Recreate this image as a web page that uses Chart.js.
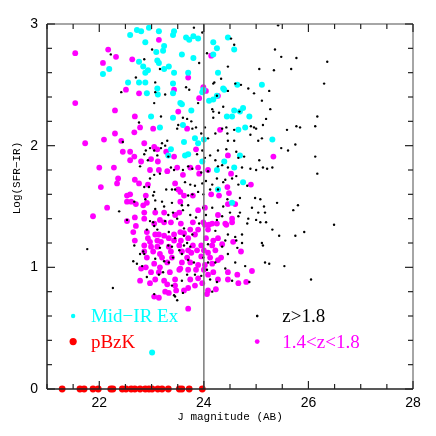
<!DOCTYPE html>
<html>
<head>
<meta charset="utf-8">
<script src="https://cdn.jsdelivr.net/npm/chart.js@4"></script>
<style>
  html, body { margin: 0; background: #fff; }
</style>
</head>
<body>
<canvas id="chart" width="436" height="436"></canvas>
<script>
// ── Data (J magnitude, Log SFR-IR) ─────────────
const X_TICKS = [22, 24, 26, 28];
const Y_TICKS = [0, 1, 2, 3];
const J_CUT = 24;

const midIrEx = [
  [22.59,2.91],[22.72,2.95],[22.80,2.94],[22.95,2.97],[23.14,2.94],[23.43,2.94],[23.41,2.91],[23.66,2.89],
  [23.72,2.87],[23.80,2.90],[23.89,2.88],[22.88,2.85],[23.24,2.82],[23.09,2.77],[23.22,2.78],[23.58,2.75],
  [22.76,2.69],[23.11,2.70],[23.80,2.72],[22.84,2.65],[22.93,2.62],[23.14,2.68],[23.33,2.65],[22.88,2.60],
  [23.24,2.63],[23.43,2.60],[23.70,2.60],[22.19,2.63],[22.07,2.59],[22.55,2.52],[22.76,2.52],[22.88,2.52],
  [23.11,2.47],[23.12,2.42],[23.41,2.51],[23.41,2.43],[23.97,2.44],[22.91,2.43],[23.58,2.34],[23.76,2.29],
  [24.18,2.38],[24.10,2.37],[24.25,2.41],[24.39,2.46],[24.64,2.50],[24.58,2.29],[24.69,2.28],[24.75,2.31],
  [24.44,2.24],[24.54,2.24],[22.99,2.24],[23.41,2.23],[23.60,2.17],[24.79,2.15],[24.18,2.85],[24.25,2.80],
  [24.46,2.89],[24.58,2.79],[24.18,2.75],[24.27,2.60],[25.11,2.50],[24.37,2.47],[23.99,2.46],[24.87,2.24],
  [23.55,2.35],[24.66,2.13],[23.83,2.06],[24.00,2.05],[23.89,2.02],[25.31,2.05],[24.69,1.92],[24.39,1.87],
  [24.58,1.82],[24.25,1.80],[23.97,1.87],[23.70,1.93],[24.75,1.70],[24.27,1.64],[24.54,1.53],[23.16,2.15],
  [23.62,2.03],[23.37,1.97],[23.32,1.92],[23.64,1.92],[23.01,0.30]
];

const midZ = [
  [21.54,2.76],[22.17,2.79],[22.07,2.68],[22.32,2.73],[22.63,2.71],[23.14,2.87],[23.70,2.56],[23.43,2.46],
  [22.51,2.46],[22.76,2.43],[23.99,2.48],[24.04,2.45],[23.91,2.39],[24.27,2.41],[21.54,2.35],[22.30,2.29],
  [22.68,2.24],[23.51,2.28],[22.78,2.15],[23.03,2.14],[23.68,2.14],[24.14,2.74],[24.31,2.13],[21.73,2.02],
  [22.09,2.05],[22.30,2.10],[22.42,2.04],[22.67,2.11],[22.86,2.02],[22.45,1.95],[22.59,1.95],[22.67,1.91],
  [22.59,1.88],[23.05,1.99],[23.11,1.97],[23.28,1.95],[23.43,1.91],[22.99,1.89],[23.12,1.87],[22.00,1.82],
  [22.28,1.82],[22.80,1.87],[22.97,1.80],[23.14,1.80],[23.30,1.79],[23.49,1.82],[22.36,1.73],[22.34,1.69],
  [22.68,1.72],[22.76,1.69],[22.93,1.68],[22.03,1.66],[23.51,1.64],[23.45,1.69],[23.60,1.76],[23.55,1.62],
  [23.62,1.59],[22.53,1.59],[22.59,1.60],[22.89,1.59],[22.53,1.54],[22.70,1.52],[22.61,1.54],[23.55,1.54],
  [22.84,1.51],[22.91,1.53],[22.15,1.49],[21.88,1.42],[22.86,1.45],[23.07,1.45],[23.24,1.45],[23.45,1.43],
  [23.53,1.45],[22.68,1.41],[22.86,1.40],[23.16,1.39],[23.24,1.37],[23.37,1.37],[25.33,1.91],[24.46,1.92],
  [23.85,1.97],[23.74,1.82],[23.89,1.82],[24.08,1.80],[23.91,1.77],[24.52,1.77],[24.90,1.68],[24.45,1.66],
  [24.14,1.60],[24.29,1.59],[24.48,1.61],[23.79,1.59],[24.46,1.52],[23.89,1.47],[24.02,1.49],[24.60,1.52],
  [24.27,1.43],[24.54,1.40],[24.41,1.36],[24.25,1.36],[24.02,1.35],[24.10,1.35],[22.53,1.38],[22.70,1.34],
  [23.05,1.36],[23.56,1.36],[22.65,1.29],[22.91,1.29],[23.07,1.27],[23.14,1.27],[23.24,1.26],[23.43,1.27],
  [23.55,1.29],[23.62,1.28],[22.68,1.22],[22.93,1.24],[22.97,1.21],[23.11,1.22],[23.18,1.21],[23.33,1.24],
  [23.43,1.22],[23.56,1.22],[22.86,1.18],[22.99,1.17],[23.11,1.17],[23.33,1.17],[23.53,1.18],[22.86,1.13],
  [23.03,1.13],[23.16,1.11],[23.37,1.13],[23.58,1.13],[23.20,1.08],[23.39,1.08],[23.30,1.04],[23.58,1.04],
  [22.89,1.00],[23.05,1.03],[23.55,0.99],[22.80,0.99],[22.99,0.96],[23.14,0.96],[23.35,0.96],[23.53,0.98],
  [22.78,0.89],[23.07,0.90],[23.24,0.89],[23.45,0.90],[23.30,0.86],[22.97,0.87],[23.47,0.81],[23.26,0.80],
  [23.05,0.76],[23.14,0.75],[23.62,0.81],[23.45,0.85],[23.16,1.00],[22.91,1.08],[23.79,1.37],[23.99,1.37],
  [24.16,1.36],[24.43,1.35],[24.54,1.37],[23.74,1.31],[23.89,1.31],[24.08,1.31],[23.83,1.27],[23.70,1.24],
  [24.04,1.24],[24.18,1.22],[24.27,1.24],[24.56,1.21],[23.79,1.18],[23.95,1.18],[24.16,1.18],[24.35,1.19],
  [23.70,1.14],[23.87,1.14],[24.00,1.14],[24.22,1.14],[23.76,1.12],[24.08,1.12],[23.68,1.08],[23.95,1.09],
  [24.12,1.08],[24.33,1.08],[23.74,1.04],[23.89,1.02],[24.02,1.02],[24.16,1.03],[24.27,1.06],[24.71,1.13],
  [23.70,0.98],[23.85,0.98],[24.00,0.98],[24.18,0.96],[23.74,0.90],[23.89,0.91],[24.08,0.94],[24.27,0.90],
  [24.46,0.96],[24.64,0.94],[24.92,0.97],[24.46,0.90],[23.83,0.85],[23.97,0.87],[24.66,0.87],[24.81,0.88],
  [24.08,0.81],[24.23,0.82],[24.06,0.78],[23.70,0.83],[23.33,0.79],[23.70,0.66]
];

const highZ = [
  [23.81,2.97],[23.97,2.93],[24.52,2.88],[24.58,2.83],[23.01,2.79],[22.22,2.75],[23.91,2.68],[22.86,2.71],
  [23.16,2.63],[24.46,2.65],[22.70,2.56],[23.07,2.52],[24.18,2.51],[24.33,2.55],[22.42,2.44],[23.07,2.44],
  [23.66,2.48],[23.72,2.46],[23.26,2.42],[23.05,2.35],[23.89,2.35],[24.60,2.51],[24.85,2.47],[24.46,2.45],
  [24.16,2.30],[24.37,2.32],[24.18,2.28],[23.18,2.24],[23.60,2.23],[22.76,2.19],[23.51,2.17],[23.68,2.22],
  [23.76,2.20],[23.85,2.15],[23.49,2.14],[24.02,2.15],[25.42,2.99],[24.06,2.76],[25.36,2.79],[25.48,2.73],
  [25.77,2.72],[26.36,2.69],[25.06,2.63],[25.34,2.62],[25.67,2.63],[24.20,2.52],[24.71,2.50],[25.25,2.45],
  [24.96,2.43],[26.30,2.51],[24.25,2.41],[25.11,2.37],[26.17,2.24],[25.27,2.30],[25.19,2.22],[24.29,2.27],
  [24.68,2.28],[24.18,2.23],[24.43,2.15],[25.13,2.17],[25.77,2.16],[25.84,2.15],[26.13,2.16],[24.96,2.15],
  [23.78,2.14],[24.35,2.14],[24.45,2.10],[24.58,2.13],[24.90,2.16],[25.00,2.14],[25.04,2.04],[25.59,2.13],
  [23.95,2.10],[24.08,2.06],[24.22,2.10],[24.46,2.04],[24.58,2.04],[24.89,2.09],[25.11,2.06],[25.48,1.98],
  [25.61,1.96],[25.75,2.01],[26.13,1.91],[26.17,1.77],[24.27,1.96],[24.43,1.97],[24.62,1.95],[24.66,1.90],
  [24.77,1.91],[25.06,1.88],[25.13,1.82],[25.31,1.82],[23.97,1.96],[23.87,1.93],[24.02,1.90],[24.12,1.92],
  [24.22,1.88],[24.27,1.83],[24.35,1.84],[24.46,1.82],[24.73,1.82],[24.89,1.81],[25.00,1.80],[25.21,1.81],
  [23.70,1.83],[23.78,1.81],[23.95,1.78],[24.08,1.79],[24.25,1.73],[24.41,1.72],[24.54,1.73],[24.62,1.75],
  [24.66,1.68],[24.83,1.67],[23.64,1.70],[23.74,1.68],[23.83,1.67],[23.97,1.69],[24.04,1.71],[24.16,1.68],
  [24.37,1.70],[23.70,1.59],[23.78,1.60],[23.89,1.62],[23.99,1.60],[24.12,1.64],[24.27,1.64],[24.45,1.56],
  [24.69,1.57],[24.98,1.57],[25.08,1.56],[25.15,1.50],[25.40,1.53],[23.70,1.51],[23.99,1.49],[24.16,1.49],
  [24.37,1.50],[24.50,1.45],[24.69,1.45],[24.92,1.49],[25.17,1.45],[23.74,1.43],[23.85,1.41],[24.04,1.43],
  [24.35,1.42],[24.66,1.42],[24.85,1.40],[25.04,1.45],[25.80,1.51],[25.71,1.47],[24.25,1.39],[25.00,1.39],
  [24.83,1.36],[25.19,1.37],[26.49,1.35],[23.91,1.36],[25.08,1.37],[25.31,1.31],[25.44,1.26],[25.75,1.26],
  [25.92,1.29],[23.78,1.27],[24.22,1.30],[24.46,1.27],[24.60,1.25],[24.41,1.22],[24.62,1.22],[24.73,1.20],
  [24.73,1.27],[25.11,1.20],[25.13,1.18],[23.68,1.20],[23.74,1.17],[24.08,1.19],[24.35,1.17],[24.46,1.11],
  [24.64,1.16],[23.70,1.06],[23.81,1.04],[23.99,1.08],[24.08,1.04],[24.22,1.04],[24.06,0.98],[23.68,0.94],
  [23.83,0.94],[23.95,0.93],[24.12,0.90],[24.25,0.88],[24.60,1.04],[24.79,1.01],[25.17,1.04],[25.25,1.03],
  [25.54,1.01],[24.54,0.89],[24.87,0.88],[26.05,0.90],[24.16,0.80],[25.02,0.60],[24.41,0.99],[23.20,2.02],
  [23.30,2.04],[23.26,2.00],[23.18,1.98],[22.97,1.98],[22.89,1.96],[22.86,1.93],[22.78,1.83],[23.05,1.96],
  [23.32,1.91],[23.37,1.82],[23.43,1.80],[23.60,1.80],[23.16,1.77],[23.05,1.76],[22.97,1.73],[22.86,1.66],
  [22.95,1.66],[23.45,1.64],[23.39,1.64],[23.28,1.64],[23.05,1.62],[23.03,1.59],[23.07,1.55],[22.67,1.54],
  [22.88,1.56],[23.58,1.51],[23.20,1.54],[23.39,1.53],[23.24,1.50],[22.38,1.46],[23.07,1.48],[22.97,1.38],
  [23.32,1.43],[23.49,1.40],[23.60,1.47],[23.41,1.45],[22.45,2.03],[22.93,1.88],[23.11,1.92],[21.77,1.15],
  [22.26,0.83],[22.67,1.18],[22.72,1.03],[22.82,1.01],[22.86,1.11],[22.91,1.31],[23.05,1.34],[23.26,1.38],
  [23.33,1.29],[23.45,1.24],[23.62,1.26],[23.11,1.31],[23.16,1.16],[23.32,1.18],[23.39,1.17],[23.62,1.18],
  [23.24,1.05],[23.33,1.04],[23.41,1.08],[23.53,1.14],[23.58,1.11],[22.65,1.05],[22.91,0.92],[23.14,0.94],
  [23.22,0.96],[23.39,0.85],[23.58,0.89],[23.05,0.78],[23.45,0.76],[23.49,0.73],[22.78,1.11],[22.84,1.13],
  [23.62,1.32],[23.03,1.37],[22.53,1.39],[23.07,1.07],[23.43,0.77],[23.60,0.79]
];

// pBzK objects sit on the Log(SFR-IR) = 0 line
const pBzKJ = [
  21.29, 21.63, 21.71, 21.88, 21.98, 22.22, 22.26, 22.44, 22.51, 22.61, 22.68,
  22.78, 22.88, 22.95, 23.01, 23.12, 23.20, 23.32, 23.53, 23.58, 23.72, 23.97
];

const toPoints = arr => arr.map(([x, y]) => ({ x, y }));

// ── Frame, inward ticks, cut line, legend, axis titles ──
const framePlugin = {
  id: 'frame',
  afterDatasetsDraw(chart) {
    const { ctx, chartArea: a, scales: { x, y } } = chart;
    const seg = (x1, y1, x2, y2) => { ctx.beginPath(); ctx.moveTo(x1, y1); ctx.lineTo(x2, y2); ctx.stroke(); };
    ctx.save();

    // J = 24 cut
    ctx.strokeStyle = '#7a7a7a';
    ctx.lineWidth = 1.5;
    const xc = x.getPixelForValue(J_CUT);
    seg(xc, a.top, xc, a.bottom);

    // box
    ctx.strokeStyle = '#888';
    seg(a.left, a.top, a.right, a.top);
    seg(a.right, a.top, a.right, a.bottom);
    ctx.strokeStyle = '#222';
    seg(a.left, a.top, a.left, a.bottom);
    seg(a.left, a.bottom, a.right, a.bottom);

    // ticks, pointing inward
    ctx.strokeStyle = '#222';
    ctx.lineWidth = 1.2;
    for (let i = 42; i <= 56; i++) {
      const px = x.getPixelForValue(i / 2);
      const len = i % 4 === 0 ? 8 : 5;
      seg(px, a.bottom, px, a.bottom - len);
      seg(px, a.top, px, a.top + len);
    }
    for (let i = 0; i <= 15; i++) {
      const py = y.getPixelForValue(i / 5);
      const len = i % 5 === 0 ? 8 : 5;
      seg(a.left, py, a.left + len, py);
      seg(a.right, py, a.right - len, py);
    }

    // legend
    const dot = (px, py, r, c) => { ctx.fillStyle = c; ctx.beginPath(); ctx.arc(px, py, r, 0, Math.PI * 2); ctx.fill(); };
    ctx.font = '19px "Liberation Serif", serif';
    ctx.textBaseline = 'alphabetic';
    const rows = [
      { mx: 21.5,  tx: 21.84, vy: 0.60, r: 2.2, c: '#00ffff', t: 'Mid\u2212IR Ex' },
      { mx: 21.5,  tx: 21.84, vy: 0.39, r: 3.6, c: '#ff0000', t: 'pBzK' },
      { mx: 25.02, tx: 25.5,  vy: 0.60, r: 1.2, c: '#000000', t: 'z>1.8' },
      { mx: 25.02, tx: 25.5,  vy: 0.39, r: 2.4, c: '#ff00ff', t: '1.4<z<1.8' }
    ];
    rows.forEach(r => {
      const py = y.getPixelForValue(r.vy);
      dot(x.getPixelForValue(r.mx), py, r.r, r.c);
      ctx.fillStyle = r.c;
      ctx.fillText(r.t, x.getPixelForValue(r.tx), py + 6);
    });

    // axis titles
    ctx.fillStyle = '#000';
    ctx.font = '11px "Liberation Mono", monospace';
    ctx.textAlign = 'center';
    ctx.textBaseline = 'middle';
    ctx.fillText('J magnitude (AB)', (a.left + a.right) / 2, 417);
    ctx.translate(17, 178);
    ctx.rotate(-Math.PI / 2);
    ctx.fillText('Log(SFR\u2212IR)', 0, 0);

    ctx.restore();
  }
};

const ctx = document.getElementById('chart').getContext('2d');
new Chart(ctx, {
  type: 'scatter',
  data: {
    datasets: [
      { label: 'pBzK', data: pBzKJ.map(x => ({ x, y: 0 })), pointRadius: 3.4, backgroundColor: '#ff0000', borderWidth: 0, order: 0, clip: false },
      { label: 'z>1.8', data: toPoints(highZ), pointRadius: 1.2, backgroundColor: '#000000', borderWidth: 0, order: 1 },
      { label: 'Mid-IR Ex', data: toPoints(midIrEx), pointRadius: 3, backgroundColor: '#00ffff', borderWidth: 0, order: 2 },
      { label: '1.4<z<1.8', data: toPoints(midZ), pointRadius: 2.9, backgroundColor: '#ff00ff', borderWidth: 0, order: 3 }
    ]
  },
  options: {
    responsive: false,
    animation: false,
    layout: { padding: { top: 24, right: 23, left: 0, bottom: 0 } },
    plugins: { legend: { display: false }, tooltip: { enabled: false } },
    scales: {
      x: {
        type: 'linear', min: 21, max: 28,
        afterBuildTicks: s => { s.ticks = X_TICKS.map(v => ({ value: v })); },
        afterFit: s => { s.height = 47; },
        grid: { display: false, drawTicks: false },
        border: { display: false },
        ticks: { padding: 6, color: '#000', font: { family: '"Liberation Sans", sans-serif', size: 14 } }
      },
      y: {
        type: 'linear', min: 0, max: 3,
        afterBuildTicks: s => { s.ticks = Y_TICKS.map(v => ({ value: v })); },
        afterFit: s => { s.width = 47; },
        grid: { display: false, drawTicks: false },
        border: { display: false },
        ticks: { padding: 9, color: '#000', font: { family: '"Liberation Sans", sans-serif', size: 14 } }
      }
    }
  },
  plugins: [framePlugin]
});
</script>
</body>
</html>
